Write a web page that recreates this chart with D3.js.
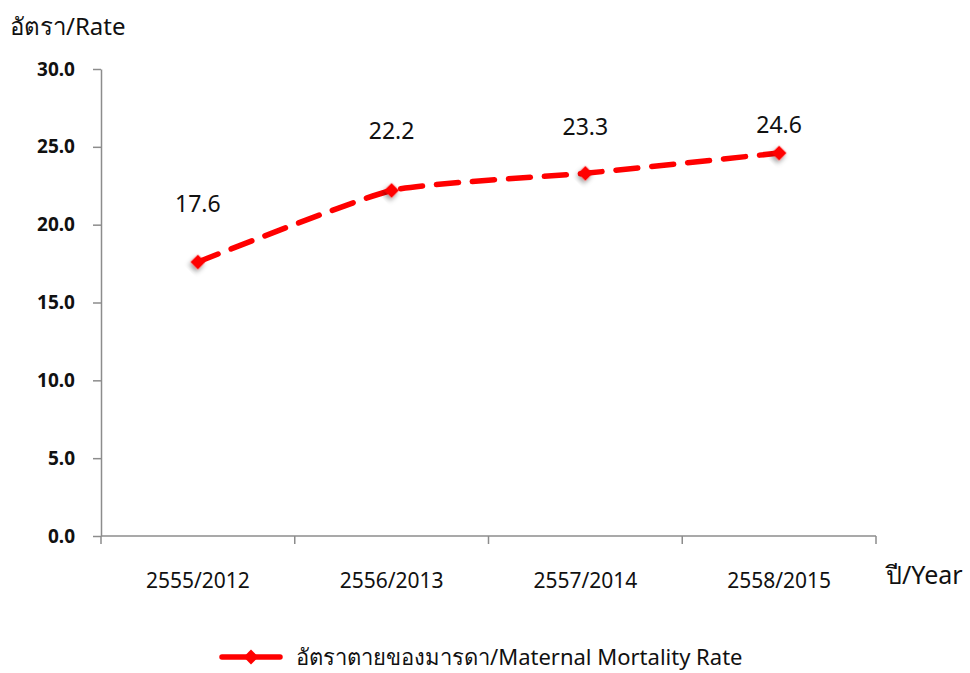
<!DOCTYPE html>
<html><head><meta charset="utf-8">
<script src="https://cdn.jsdelivr.net/npm/d3@7"></script>
<style>body{margin:0;background:#fff;} text{font-family:"Noto Sans","Open Sans",sans-serif;}</style>
</head><body>
<svg id="c" width="970" height="673"></svg>
<script>
const categories = ["2555/2012","2556/2013","2557/2014","2558/2015"];
const values = [17.6, 22.2, 23.3, 24.6];
const yTicks = [0,5,10,15,20,25,30];
const seriesName = "อัตราตายของมารดา/Maternal Mortality Rate";
const labelDy = [-50, -51, -38, -20];

const svg = d3.select("#c");
const m = {l:101, r:876, t:69, b:536};
const x = d3.scaleBand().domain(categories).range([m.l, m.r]);
const y = d3.scaleLinear().domain([0,30]).range([m.b, m.t]);
const axisCol = "#8c8c8c";

const defs = svg.append("defs");
const f = defs.append("filter").attr("id","sh").attr("x","-60%").attr("y","-60%").attr("width","220%").attr("height","220%");
f.append("feDropShadow").attr("dx",1).attr("dy",3).attr("stdDeviation",2.5).attr("flood-color","#000").attr("flood-opacity",0.4);

// y axis
const ya = svg.append("g").attr("transform",`translate(${m.l},0)`)
  .call(d3.axisLeft(y).tickValues(yTicks).tickSize(8).tickSizeOuter(0).tickFormat(d3.format(".1f")));
ya.select(".domain").attr("stroke",axisCol).attr("stroke-width",1.5);
ya.selectAll(".tick line").attr("stroke",axisCol).attr("stroke-width",1.5);
ya.selectAll(".tick text").attr("font-size",19).attr("font-weight","bold").attr("fill","#111").attr("x",-26)
  .style("font-family","'Noto Sans',sans-serif");

// x axis
const xa = svg.append("g").attr("transform",`translate(0,${m.b})`);
xa.append("line").attr("x1",m.l).attr("x2",m.r).attr("stroke",axisCol).attr("stroke-width",1.5);
const edges = categories.map(c=>x(c)).concat([m.r]);
xa.selectAll("line.t").data(edges).enter().append("line").attr("class","t")
  .attr("x1",d=>d).attr("x2",d=>d).attr("y1",0).attr("y2",8).attr("stroke",axisCol).attr("stroke-width",1.5);
xa.selectAll("text").data(categories).enter().append("text")
  .attr("x",d=>x(d)+x.bandwidth()/2).attr("y",52).attr("text-anchor","middle")
  .attr("font-size",21).attr("fill","#111").text(d=>d);

// titles
svg.append("text").attr("x",10).attr("y",35).attr("font-size",24).attr("fill","#111").text("อัตรา/Rate");
svg.append("text").attr("x",886).attr("y",584).attr("font-size",25).attr("fill","#111").text("ปี/Year");

// line
const pts = categories.map((c,i)=>[x(c)+x.bandwidth()/2, y(values[i])]);
const line = d3.line().curve(d3.curveCardinal.tension(0.5));
svg.append("path").attr("d",line(pts)).attr("fill","none").attr("stroke","#ff0000")
  .attr("stroke-width",5.5).attr("stroke-dasharray","22,14").attr("stroke-linecap","round");

svg.selectAll("path.mk").data(pts).enter().append("path").attr("class","mk")
  .attr("d",d3.symbol().type(d3.symbolSquare).size(110))
  .attr("transform",d=>`translate(${d[0]},${d[1]}) rotate(45)`)
  .attr("fill","#ff0000").attr("filter","url(#sh)");

svg.selectAll("text.lbl").data(pts).enter().append("text").attr("class","lbl")
  .attr("x",d=>d[0]).attr("y",(d,i)=>d[1]+labelDy[i]).attr("text-anchor","middle")
  .attr("font-size",23).attr("fill","#111").text((d,i)=>values[i].toFixed(1));

// legend
const lg = svg.append("g");
lg.append("line").attr("x1",222).attr("x2",280).attr("y1",657).attr("y2",657)
  .attr("stroke","#ff0000").attr("stroke-width",5.5).attr("stroke-dasharray","24,10").attr("stroke-linecap","round");
lg.append("path").attr("d",d3.symbol().type(d3.symbolSquare).size(110))
  .attr("transform","translate(251,657) rotate(45)").attr("fill","#ff0000");
lg.append("text").attr("x",296).attr("y",665).attr("font-size",22).attr("fill","#111").text(seriesName);
</script>
</body></html>
